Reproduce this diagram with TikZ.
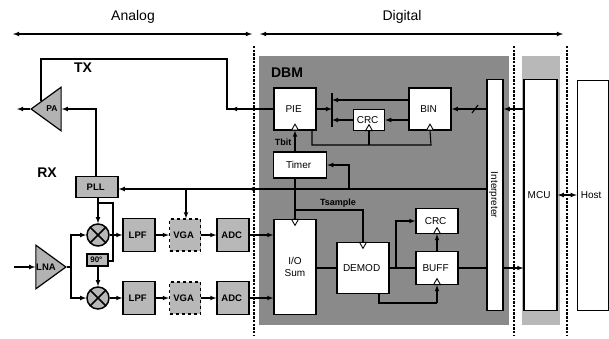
\documentclass[tikz,border=0pt]{standalone}
\usepackage{fontspec}
\setmainfont{Liberation Sans}
\usetikzlibrary{shapes.geometric}
\begin{document}
\begin{tikzpicture}[x=1pt, y=-1pt, font=\fontsize{10}{11.5}\selectfont,
	wire/.style = { draw, line width=1.1pt },
	arrowwire/.style = { wire, -latex },
	bothwire/.style = { wire, latex-latex },
	divider/.style = { draw, line width=2pt, dash pattern=on 2.4pt off 1.3pt },
	whitebox/.style = { draw, line width=1.3pt, fill=white, inner sep=0pt, align=center },
	graybox/.style = { whitebox, fill=black!28, font=\fontsize{9.5}{11}\selectfont\bfseries },
	amp/.style = { draw, line width=1.2pt, fill=black!30, isosceles triangle, isosceles triangle apex angle=72, inner sep=0pt, minimum height=30pt },
	mixer/.style = { draw, line width=1.5pt, fill=black!28, circle, inner sep=0pt, minimum size=22pt, path picture={ \draw [line width=1.5pt] (path picture bounding box.north west) -- (path picture bounding box.south east) (path picture bounding box.north east) -- (path picture bounding box.south west); } },
	clock/.style = { draw, line width=0.9pt, fill=white, regular polygon, regular polygon sides=3, inner sep=0pt, minimum size=8pt },
	bigtext/.style = { font=\fontsize{14}{15}\selectfont\bfseries },
	signal/.style = { font=\fontsize{9}{10}\selectfont\bfseries }]
	\useasboundingbox (0,0) rectangle (609,338);

	\fill [black!46] (259,56) rectangle (509,325);
	\fill [black!28] (522,56) rectangle (560,325);

	\node [font=\fontsize{14}{15}\selectfont] (analog) at (133,17) { Analog };
	\node [font=\fontsize{14}{15}\selectfont] (digital) at (402,17) { Digital };
	\coordinate (analogl) at (13,34);
	\coordinate (analogr) at (252,34);
	\coordinate (digitall) at (260,34);
	\coordinate (digitalr) at (563,34);
	\draw [bothwire] (analogl) -- (analogr);
	\draw [bothwire] (digitall) -- (digitalr);

	\coordinate (div1top) at (254,46);
	\coordinate (div1bot) at (254,336);
	\coordinate (div2top) at (514,46);
	\coordinate (div2bot) at (514,336);
	\coordinate (div3top) at (567,46);
	\coordinate (div3bot) at (567,336);
	\draw [divider] (div1top) -- (div1bot);
	\draw [divider] (div2top) -- (div2bot);
	\draw [divider] (div3top) -- (div3bot);

	\node [bigtext] (tx) at (83,68) { TX };
	\node [bigtext] (rx) at (47,173) { RX };
	\node [bigtext] (dbm) at (287,73) { DBM };

	\node [amp, shape border rotate=180] (pa) at (50,109) { };
	\node [font=\fontsize{8.5}{9}\selectfont\bfseries] (palabel) at (52,109) { PA };
	\node [amp, shape border rotate=0] (lna) at (47,267) { };
	\node [font=\fontsize{9.5}{10}\selectfont\bfseries] (lnalabel) at (46,267) { LNA };

	\node [graybox, minimum width=42pt, minimum height=21pt] (pll) at (97,187) { PLL };
	\node [mixer] (mixtop) at (98,235) { };
	\node [mixer] (mixbot) at (98,298) { };
	\node [graybox, minimum width=21pt, minimum height=12pt, font=\fontsize{8}{9}\selectfont\bfseries] (shift) at (97.5,260) { 90° };

	\node [graybox, minimum width=32pt, minimum height=33pt] (lpftop) at (139,235) { LPF };
	\node [graybox, dashed, minimum width=31pt, minimum height=32pt] (vgatop) at (185,235) { VGA };
	\node [graybox, minimum width=32pt, minimum height=33pt] (adctop) at (233,235) { ADC };
	\node [graybox, minimum width=32pt, minimum height=33pt] (lpfbot) at (139,298) { LPF };
	\node [graybox, dashed, minimum width=31pt, minimum height=32pt] (vgabot) at (185,298) { VGA };
	\node [graybox, minimum width=32pt, minimum height=33pt] (adcbot) at (233,298) { ADC };

	\node [whitebox, minimum width=42pt, minimum height=42pt] (pie) at (295,109) { PIE };
	\node [whitebox, minimum width=31pt, minimum height=21pt] (cbc) at (369,120) { CRC };
	\node [whitebox, minimum width=42pt, minimum height=42pt] (bin) at (430,109) { BIN };
	\node [whitebox, minimum width=53pt, minimum height=26pt] (timer) at (300,165) { Timer };
	\node [whitebox, minimum width=42pt, minimum height=95pt] (iosum) at (295,267) { I/O\\Sum };
	\node [whitebox, minimum width=52pt, minimum height=51pt] (demod) at (363,268) { DEMOD };
	\node [whitebox, minimum width=42pt, minimum height=25pt] (crc) at (437,221) { CRC };
	\node [whitebox, minimum width=42pt, minimum height=33pt] (buff) at (437,268) { BUFF };
	\node [whitebox, minimum width=16pt, minimum height=231pt] (interp) at (495,195) { \rotatebox{-90}{Interpreter} };
	\node [whitebox, minimum width=33pt, minimum height=231pt] (mcu) at (540.5,195) { MCU };
	\node [whitebox, line width=0.5pt, minimum width=31pt, minimum height=230pt] (host) at (592.5,195) { Host };

	\node [clock] (pieclk) at ([yshift=2.5pt]pie.south) { };
	\node [clock] (cbcclk) at ([yshift=2.5pt]cbc.south) { };
	\node [clock] (binclk) at ([yshift=2.5pt]bin.south) { };
	\node [clock, shape border rotate=180] (iosumclk) at ([yshift=-2.5pt]iosum.north) { };
	\node [clock, shape border rotate=180] (demodclk) at ([yshift=-2.5pt]demod.north) { };
	\node [clock] (crcclk) at ([yshift=2.5pt]crc.south) { };
	\node [clock] (buffclk) at ([yshift=2.5pt]buff.south) { };

	\node [signal] (tbit) at (283,142) { Tbit };
	\node [signal] (tsample) at (338,203) { Tsample };

	\coordinate (topleft) at (41,59);
	\coordinate (topright) at (227,59);
	\coordinate (pieleft) at (227,109);
	\coordinate (pietip) at (231,109);
	\coordinate (piecross) at (254,109);
	\coordinate (paout) at (17,109);
	\coordinate (pain) at (96,109);
	\coordinate (patop) at (41,101);
	\draw [wire] (pie.west) -- (pieleft) -- (topright) -- (topleft) -- (patop);
	\draw [arrowwire] (piecross) -- (pietip);
	\draw [arrowwire] (pa.west) -- (paout);
	\draw [arrowwire] (pll.north -| pain) -- (pain) -- (pa.east);

	\coordinate (lnain) at (14,267);
	\coordinate (split) at (71,267);
	\draw [arrowwire] (lnain) -- (lna.west);
	\draw [wire] (lna.east) -- (split);
	\draw [arrowwire] (split) |- (mixtop.west);
	\draw [arrowwire] (split) |- (mixbot.west);

	\coordinate (pllloop) at (98,203);
	\coordinate (loopright) at (113,203);
	\coordinate (loopbot) at (113,261);
	\draw [arrowwire] (mixtop.north |- pll.south) -- (mixtop.north);
	\draw [wire] (pllloop) -- (loopright) -- (loopbot) -- (shift.east |- loopbot);
	\draw [arrowwire] (shift.south -| mixbot) -- (mixbot.north);

	\draw [arrowwire] (mixtop.east) -- (lpftop.west);
	\draw [arrowwire] (lpftop.east) -- (vgatop.west);
	\draw [arrowwire] (vgatop.east) -- (adctop.west);
	\draw [arrowwire] (adctop.east) -- (iosum.west |- adctop);
	\draw [arrowwire] (mixbot.east) -- (lpfbot.west);
	\draw [arrowwire] (lpfbot.east) -- (vgabot.west);
	\draw [arrowwire] (vgabot.east) -- (adcbot.west);
	\draw [arrowwire] (adcbot.east) -- (iosum.west |- adcbot);

	\coordinate (clkline) at (487,189);
	\coordinate (clkcross) at (256,189);
	\coordinate (clktip) at (248,189);
	\coordinate (vgabranch) at (186,189);
	\draw [arrowwire] (clkline) -- (pll.east |- clkline);
	\draw [arrowwire] (vgabranch) -- (vgatop.north -| vgabranch);
	\draw [arrowwire] (clkcross) -- (clktip);

	\coordinate (bar1) at (332,93);
	\coordinate (bar2) at (332,127);
	\coordinate (bintap) at (409,100);
	\coordinate (timerline) at (349,189);
	\coordinate (bintip) at (463,109);
	\coordinate (slash1) at (472,113);
	\coordinate (slash2) at (478,105);
	\draw [line width=2pt] (bar1) -- (bar2);
	\draw [arrowwire] (pie.east) -- (bar1 |- pie.east);
	\draw [arrowwire] (bintap) -- (bar1 |- bintap);
	\draw [arrowwire] (cbc.west) -- (bar1 |- cbc.west);
	\draw [arrowwire] (bin.west |- cbc) -- (cbc.east);
	\draw [wire] (bintip) -- (interp.west |- bintip);
	\draw [arrowwire] (bintip) -- (bin.east);
	\draw [wire] (slash1) -- (slash2);

	\coordinate (enleft) at (312,145);
	\coordinate (enright) at (431,145);
	\draw [wire] (enleft |- pie.south) -- (enleft) -- (enright) -- (binclk.south);
	\draw [wire] (cbcclk.south |- enleft) -- (cbcclk.south);

	\draw [arrowwire] (timer.north -| pieclk) -- (pieclk.south);
	\draw [arrowwire] (timerline) |- (timer.east);

	\coordinate (sampleleft) at (295,210);
	\coordinate (sampleright) at (363,210);
	\draw [wire] (timer.south -| sampleleft) -- (sampleleft) -- (sampleright) -- (demodclk.north);
	\draw [wire] (sampleleft) -- (iosumclk.north);

	\coordinate (tocrc) at (396,268);
	\draw [wire] (iosum.east |- demod) -- (demod.west);
	\draw [wire] (demod.east) -- (buff.west);
	\draw [arrowwire] (tocrc) |- (crc.west);
	\draw [arrowwire] (buff.north) -- (crcclk.south);
	\draw [wire] (buff.east) -- (interp.west |- buff.east);

	\coordinate (demodbot) at (379,303);
	\coordinate (buffbot) at (437,303);
	\draw [wire] (demod.south -| demodbot) -- (demodbot) -- (buffbot);
	\draw [arrowwire] (buffbot) -- (buffclk.south);

	\coordinate (upper) at (505,109);
	\draw [arrowwire] (mcu.west |- upper) -- (interp.east |- upper);
	\coordinate (lower) at (505,268);
	\draw [arrowwire] (interp.east |- lower) -- (mcu.west |- lower);
	\draw [bothwire] (mcu.east) -- (host.west);
\end{tikzpicture}
\end{document}
